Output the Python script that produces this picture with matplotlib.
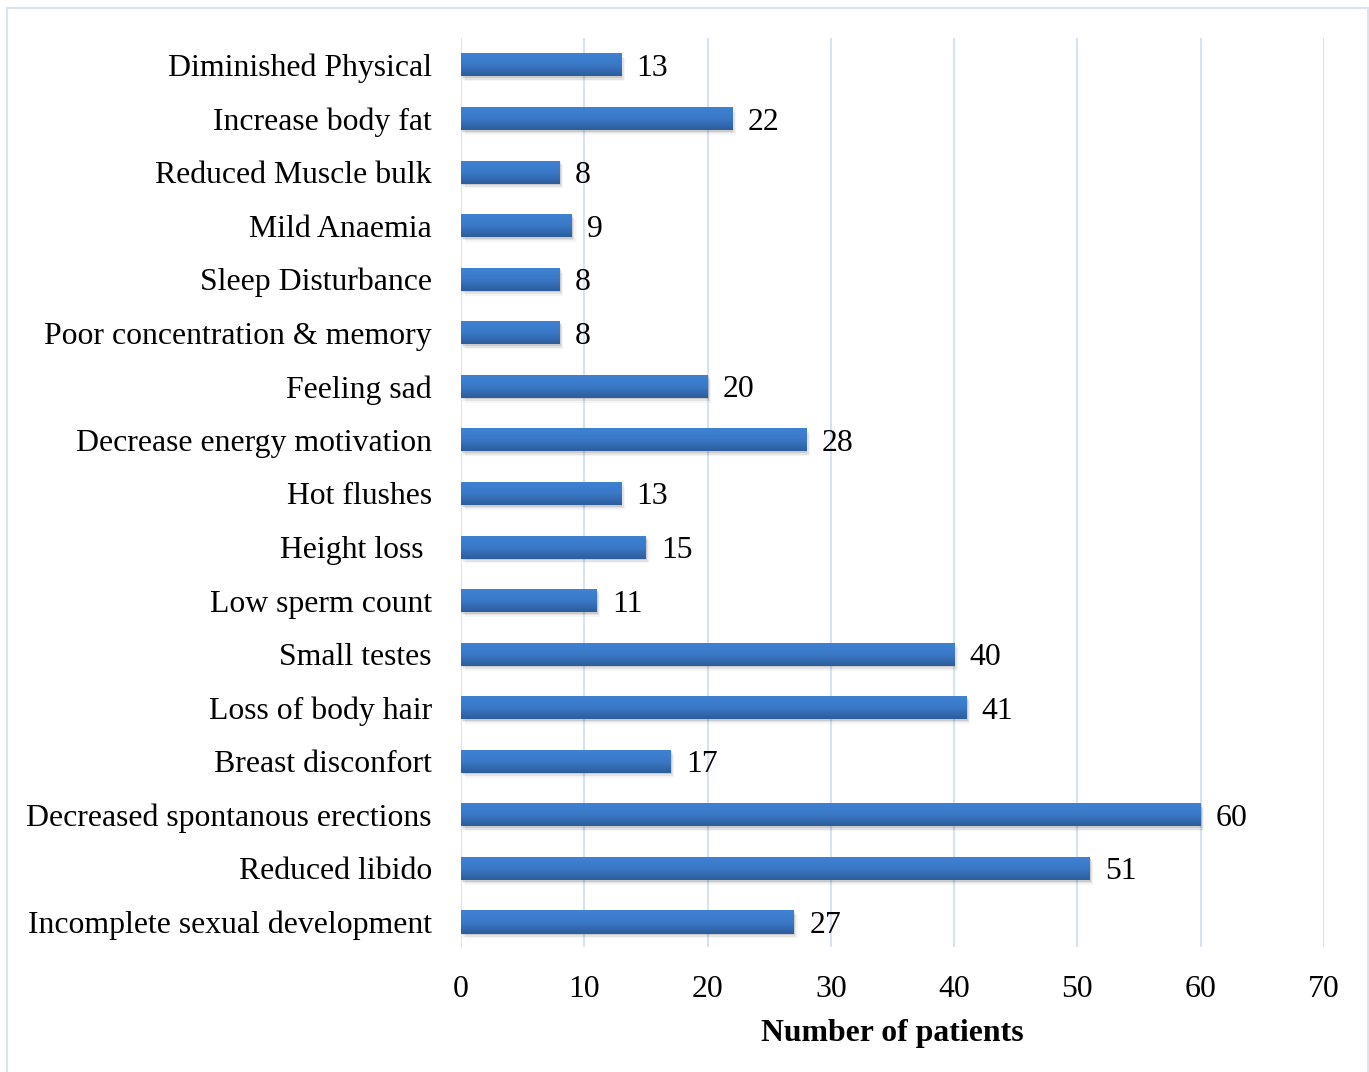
import numpy as np
import matplotlib
matplotlib.use("Agg")
import matplotlib.pyplot as plt
from matplotlib.patches import Rectangle
from matplotlib.colors import LinearSegmentedColormap

# symptom counts, listed top to bottom
symptoms = ["Diminished Physical", "Increase body fat", "Reduced Muscle bulk",
            "Mild Anaemia", "Sleep Disturbance", "Poor concentration & memory",
            "Feeling sad", "Decrease energy motivation", "Hot flushes",
            "Height loss ", "Low sperm count", "Small testes",
            "Loss of body hair", "Breast disconfort",
            "Decreased spontanous erections", "Reduced libido",
            "Incomplete sexual development"]
patients = [13, 22, 8, 9, 8, 8, 20, 28, 13, 15, 11, 40, 41, 17, 60, 51, 27]
xticks = [0, 10, 20, 30, 40, 50, 60, 70]

plt.rcParams['font.family'] = ['Liberation Serif', 'DejaVu Serif']
FS = 22.9

fig = plt.figure(figsize=(13.69, 10.72), dpi=100)
ax = fig.add_axes([0.3367, 0.1166, 0.6304, 0.848])

# thin light-blue frame around the chart area
fig.patches.append(Rectangle((7/1369, -0.01), 1361/1369, 1 - 8/1072 + 0.01,
                             transform=fig.transFigure, fill=False,
                             edgecolor='#d9e4f2', linewidth=1.5))

y = np.arange(len(symptoms))[::-1]
h = 0.43
grad = LinearSegmentedColormap.from_list('bar', ['#2d5d9c', '#3a79c8', '#3f82d4'])

bars = ax.barh(y, patients, height=h, color='#3674c0', zorder=3)
for bar, val in zip(bars, patients):
    x0, y0 = bar.get_x(), bar.get_y()
    w, hh = bar.get_width(), bar.get_height()
    # soft drop shadow under each bar
    for k, a in enumerate([0.10, 0.07, 0.04]):
        ax.add_patch(Rectangle((x0 + 0.1 * (k + 1), y0 - 0.03 * (k + 1)), w, hh,
                               color='black', alpha=a, lw=0, zorder=2))
    img = ax.imshow(np.linspace(0, 1, 64).reshape(-1, 1), cmap=grad, aspect='auto',
                    extent=[x0, x0 + w, y0, y0 + hh], origin='lower', zorder=4)
    img.set_clip_path(bar)
    ax.text(val + 1.25, y0 + hh / 2, str(val), va='center_baseline', ha='left',
            fontsize=FS, color='black')

ax.set_xlim(0, 70)
ax.set_ylim(-0.467, 16.504)
ax.set_xticks(xticks)
ax.set_yticks(y)
ax.set_yticklabels(symptoms, fontsize=FS)
ax.tick_params(axis='x', labelsize=FS, length=0, pad=20)
ax.tick_params(axis='y', length=0, pad=21)
ax.grid(axis='x', color='#d6e3f3', linewidth=1.5, zorder=0)
ax.set_axisbelow(True)
for s in ax.spines.values():
    s.set_visible(False)
ax.set_xlabel("Number of patients", fontsize=FS, fontweight='bold', labelpad=11)

fig.savefig("out.png", dpi=100, facecolor='white')
